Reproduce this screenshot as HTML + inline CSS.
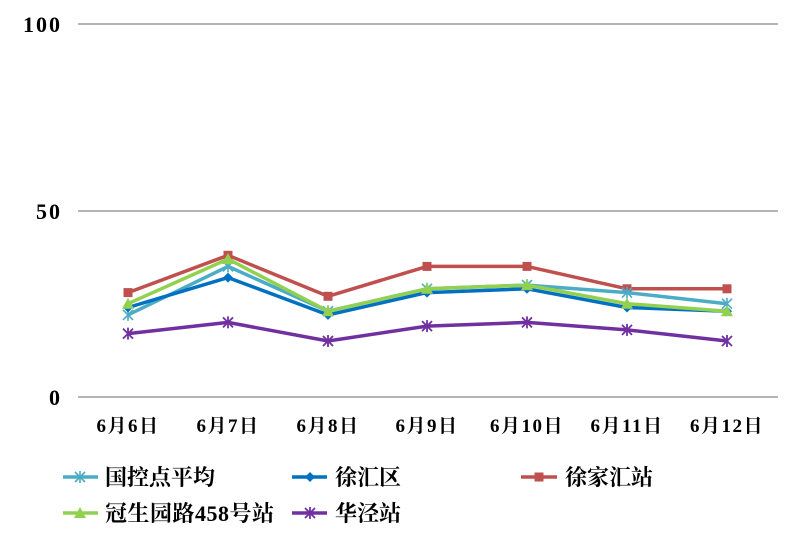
<!DOCTYPE html>
<html><head><meta charset="utf-8"><style>
html,body{margin:0;padding:0;background:#fff;}
svg{display:block;}
text{font-family:"Liberation Serif","Noto Serif CJK SC","Noto Sans CJK SC",serif;font-weight:bold;fill:#000;}
</style></head><body>
<svg width="795" height="545" viewBox="0 0 795 545" xmlns="http://www.w3.org/2000/svg">
<defs>
<marker id="sq" markerWidth="12" markerHeight="12" refX="6" refY="6" markerUnits="userSpaceOnUse"><rect x="1.5" y="1.5" width="9" height="9" fill="#c0504d"/></marker>
<marker id="di" markerWidth="12" markerHeight="12" refX="6" refY="6" markerUnits="userSpaceOnUse"><polygon points="6,1 11,6 6,11 1,6" fill="#0070c0"/></marker>
<marker id="tr" markerWidth="14" markerHeight="14" refX="7" refY="7" markerUnits="userSpaceOnUse"><polygon points="7,1 13,12 1,12" fill="#92d050"/></marker>
<marker id="as" markerWidth="14" markerHeight="14" refX="7" refY="7" markerUnits="userSpaceOnUse"><path d="M2,2L12,12M12,2L2,12M7,1V13" stroke="#4bacc6" stroke-width="1.6"/></marker>
<marker id="ap" markerWidth="14" markerHeight="14" refX="7" refY="7" markerUnits="userSpaceOnUse"><path d="M2,2L12,12M12,2L2,12M7,1V13" stroke="#7030a0" stroke-width="1.8"/></marker>
</defs>
<g stroke="#868686" stroke-width="1.3">
<line x1="78" y1="24" x2="778" y2="24"/>
<line x1="78" y1="211" x2="778" y2="211"/>
<line x1="78" y1="397" x2="778" y2="397"/>
</g>
<g font-size="22" text-anchor="end" letter-spacing="2">
<text x="62" y="32">100</text>
<text x="62" y="219">50</text>
<text x="62" y="405">0</text>
</g>
<g font-size="19" text-anchor="middle" letter-spacing="1.5">
<text x="128" y="432">6月6日</text>
<text x="228" y="432">6月7日</text>
<text x="328" y="432">6月8日</text>
<text x="427" y="432">6月9日</text>
<text x="527" y="432">6月10日</text>
<text x="627" y="432">6月11日</text>
<text x="727" y="432">6月12日</text>
</g>
<g fill="none" stroke-width="3.5" stroke-linejoin="round">
<polyline stroke="#c0504d" marker-start="url(#sq)" marker-mid="url(#sq)" marker-end="url(#sq)" points="128,292.6 228,255.3 328,296.3 427,266.4 527,266.4 627,288.8 727,288.8"/>
<polyline stroke="#4bacc6" marker-start="url(#as)" marker-mid="url(#as)" marker-end="url(#as)" points="128,314.9 228,266.4 328,311.2 427,288.8 527,285.1 627,292.6 727,303.7"/>
<polyline stroke="#0070c0" marker-start="url(#di)" marker-mid="url(#di)" marker-end="url(#di)" points="128,307.5 228,277.6 328,314.9 427,292.6 527,288.8 627,307.5 727,311.2"/>
<polyline stroke="#92d050" marker-start="url(#tr)" marker-mid="url(#tr)" marker-end="url(#tr)" points="128,303.7 228,259 328,311.2 427,288.8 527,285.1 627,303.7 727,311.2"/>
<polyline stroke="#7030a0" marker-start="url(#ap)" marker-mid="url(#ap)" marker-end="url(#ap)" points="128,333.6 228,322.4 328,341 427,326.1 527,322.4 627,329.9 727,341"/>
</g>
<g fill="none" stroke-width="3.5">
<polyline stroke="#4bacc6" marker-mid="url(#as)" points="63,477 80,477 98,477"/>
<polyline stroke="#0070c0" marker-mid="url(#di)" points="292,477 310,477 327,477"/>
<polyline stroke="#c0504d" marker-mid="url(#sq)" points="521,477 539,477 557,477"/>
<polyline stroke="#92d050" marker-mid="url(#tr)" points="63,513 80,513 98,513"/>
<polyline stroke="#7030a0" marker-mid="url(#ap)" points="292,513 310,513 327,513"/>
</g>
<g font-size="22">
<text x="105" y="485">国控点平均</text>
<text x="335" y="485">徐汇区</text>
<text x="565" y="485">徐家汇站</text>
<text x="105" y="521" letter-spacing="0.5">冠生园路458号站</text>
<text x="335" y="521">华泾站</text>
</g>
</svg>
</body></html>
